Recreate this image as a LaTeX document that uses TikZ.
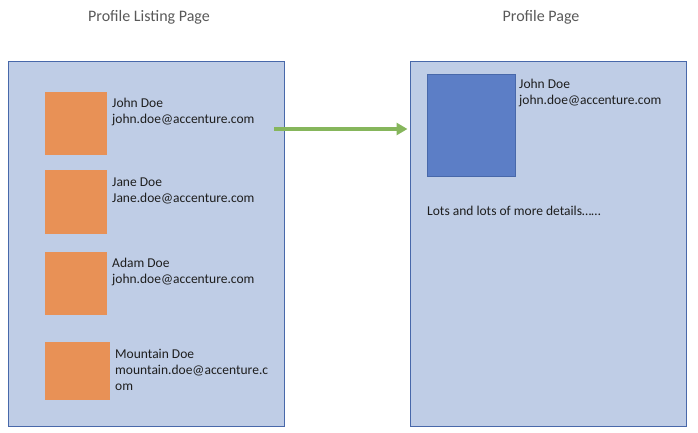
\documentclass[tikz,border=0pt]{standalone}
\usepackage{fontspec}
\setmainfont{Carlito}
\usepackage{tikz}
\usetikzlibrary{arrows.meta,positioning,calc}
\usepackage{xcolor}
\definecolor{panelblue}{RGB}{191,205,230}
\definecolor{panelline}{RGB}{72,104,170}
\definecolor{photoorange}{RGB}{232,145,86}
\definecolor{photoblue}{RGB}{92,126,198}
\definecolor{arrowgreen}{RGB}{134,182,92}
\definecolor{titlegray}{RGB}{89,89,89}
\definecolor{ink}{RGB}{30,30,30}
\tikzset{
    panel/.style={draw=panelline, line width=1pt, fill=panelblue,
                  minimum width=276pt, minimum height=364pt,
                  inner sep=0pt},
    photo/.style={fill=#1, inner sep=0pt},
    info/.style={font=\fontsize{13.5}{16}\selectfont, text=ink,
                 align=left, anchor=base west, inner sep=0pt},
    title/.style={font=\fontsize{16}{19}\selectfont, text=titlegray,
                  anchor=base, inner sep=0pt},
}

\begin{document}
\begin{tikzpicture}[
    x=1pt, y=-1pt,
    arr/.style={-{Triangle[length=11pt, width=12pt]}, line width=4pt,
                draw=arrowgreen}
]
    \useasboundingbox (0,0) rectangle (698,433);
    % the two pages
    \node[title] (tlisting) at (149,22) {Profile Listing Page};
    \node[title] (tprofile) at (541,22) {Profile Page};
    \node[panel] (listing) at (146,244) {};
    \node[panel] (profile) at (548,244) {};
    % listing entries (node base = last line)
    \node[photo=photoorange, minimum width=62pt, minimum height=63pt,
          anchor=north west] (p1) at (45,92) {};
    \node[info] (e1) at (112,124) {John Doe\\john.doe@accenture.com};
    \node[photo=photoorange, minimum width=62pt, minimum height=64pt,
          anchor=north west] (p2) at (45,170) {};
    \node[info] (e2) at (112,202) {Jane Doe\\Jane.doe@accenture.com};
    \node[photo=photoorange, minimum width=62pt, minimum height=63pt,
          anchor=north west] (p3) at (45,252) {};
    \node[info] (e3) at (112,283) {Adam Doe\\john.doe@accenture.com};
    \node[photo=photoorange, minimum width=65pt, minimum height=58pt,
          anchor=north west] (p4) at (45,342) {};
    \node[info] (e4) at (115,390)
        {Mountain Doe\\mountain.doe@accenture.c\\om};
    % profile details
    \node[photo=photoblue, draw=panelline, line width=0.8pt,
          minimum width=88pt, minimum height=102pt,
          anchor=north west] (pbig) at (427,74) {};
    \node[info] (ebig) at (519,105) {John Doe\\john.doe@accenture.com};
    \node[info] (more) at (427,215) {Lots and lots of more details……};
    % navigation
    \coordinate (click) at (274,129);
    \draw[arr, shorten >=2pt] (click) -- (click -| profile.west);
\end{tikzpicture}
\end{document}
